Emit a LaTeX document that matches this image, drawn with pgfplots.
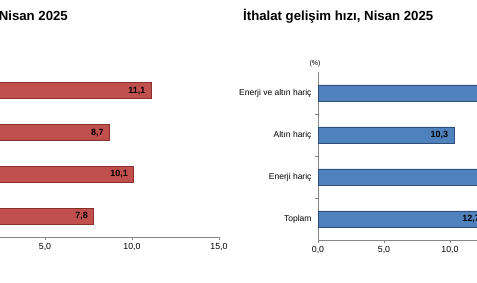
\documentclass[border=0pt]{standalone}
\usepackage{fontspec}
\setmainfont{Liberation Sans}
\usepackage{pgfplots}
\pgfplotsset{compat=1.18}
\definecolor{redfill}{HTML}{C0504D}
\definecolor{redline}{HTML}{8B2F2D}
\definecolor{bluefill}{HTML}{4F81BD}
\definecolor{blueline}{HTML}{2F4F7F}
\definecolor{axgray}{HTML}{868686}
\pgfplotsset{
  common/.style={
    xbar, scale only axis,
    xmin=0, xmax=15, ymin=0.5, ymax=4.5,
    bar width=16pt,
    axis x line*=bottom, axis y line*=left,
    axis line style={axgray, line width=0.8pt},
    xtick={0,5,10,15},
    ytick={1,2,3,4},
    yticklabels={Toplam, Enerji hariç, Altın hariç, Enerji ve altın hariç},
    minor ytick={1.5,2.5,3.5},
    tick align=outside,
    major tick length=3pt, minor tick length=3pt,
    major y tick style={draw=none},
    minor y tick style={draw=axgray, line width=0.6pt},
    major x tick style={draw=axgray, line width=0.6pt},
    xticklabel style={font=\fontsize{8.8}{10}\selectfont},
    yticklabel style={font=\fontsize{8.5}{10}\selectfont},
    /pgf/number format/.cd, fixed, fixed zerofill, precision=1, use comma, assume math mode=true,
    /pgfplots/.cd,
    nodes near coords,
    every node near coord/.append style={anchor=east, xshift=-2pt,
      font=\fontsize{9}{10}\selectfont\bfseries, text=black},
  }
}
\begin{document}
\begin{tikzpicture}
\useasboundingbox (0pt,0pt) rectangle (477pt,283pt);
\clip (0pt,0pt) rectangle (477pt,283pt);
\begin{axis}[common, at={(-42pt,46pt)}, anchor=south west, width=261pt, height=167pt]
\addplot[fill=redfill, draw=redline, line width=0.8pt] coordinates {(7.8,1) (10.1,2) (8.7,3) (11.1,4)};
\end{axis}
\begin{axis}[common, at={(318pt,43pt)}, anchor=south west, width=198pt, height=168pt]
\addplot[fill=bluefill, draw=blueline, line width=0.8pt] coordinates {(12.7,1) (14.6,2) (10.3,3) (14.0,4)};
\end{axis}
\node[anchor=base east, font=\fontsize{13.2}{15}\selectfont\bfseries, inner sep=0pt] at (68pt,262pt) {İhracat gelişim hızı, Nisan 2025};
\node[anchor=base west, font=\fontsize{13.2}{15}\selectfont\bfseries, inner sep=0pt] at (243pt,262pt) {İthalat gelişim hızı, Nisan 2025};
\node[font=\fontsize{7}{8}\selectfont, inner sep=0pt] at (315pt,219pt) {(\%)};
\end{tikzpicture}
\end{document}
